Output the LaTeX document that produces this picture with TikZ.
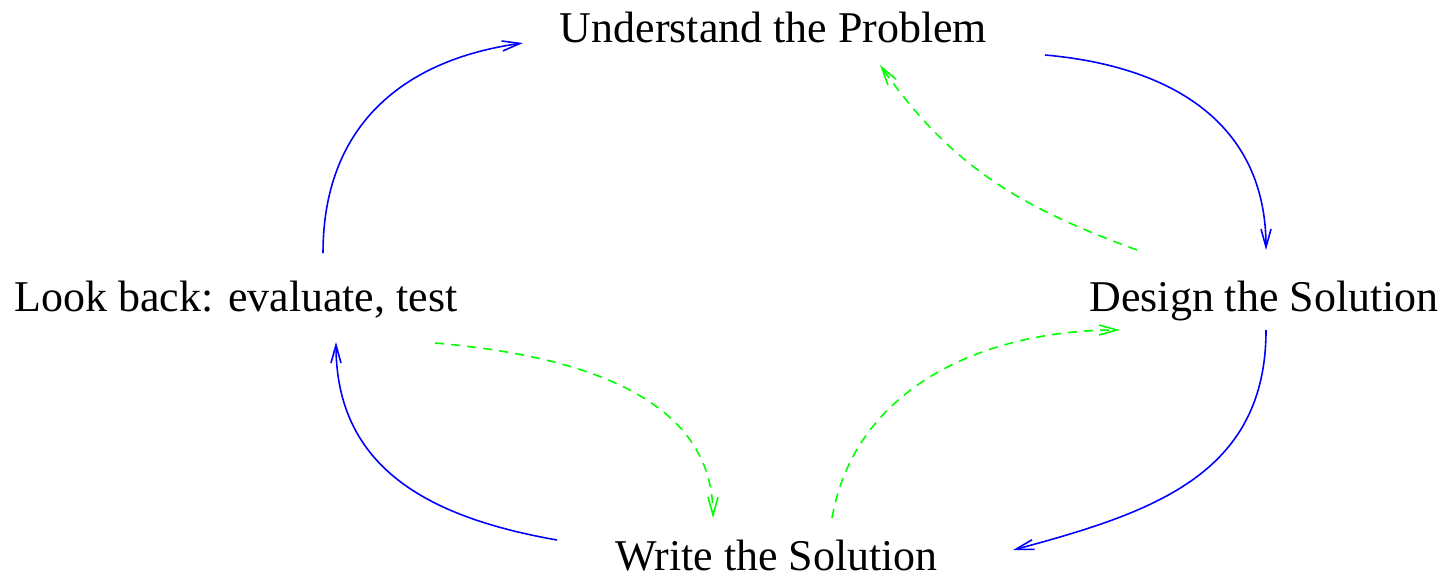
\documentclass[tikz,border=0pt]{standalone}
\usepackage{fontspec}
\setmainfont{Liberation Serif}
\usetikzlibrary{arrows.meta}
\begin{document}
\begin{tikzpicture}[every node/.style={anchor=base, inner sep=0pt, font=\fontsize{12.5}{15}\selectfont},
    fwd/.style={draw=blue, line width=0.45pt, looseness=1.1, -{Straight Barb[length=1.8mm,width=1.0mm]}},
    back/.style={draw=green, line width=0.45pt, dash pattern=on 2.6pt off 2pt, -{Straight Barb[length=1.8mm,width=1.0mm]}}]

    \useasboundingbox (0,0) rectangle (14.47,5.76);

    % Steps
    \node (und) at (7.735,5.34) {Understand the Problem};
    \node (look) at (2.36,2.65) {Look back: evaluate, test};
    \node (design) at (12.64,2.65) {Design the Solution};
    \node (write) at (7.765,0.06) {Write the Solution};

    % Main cycle
    \draw[fwd] ([xshift=8.7mm,yshift=5.8mm]look.base) to[out=90, in=188] ([xshift=-25.05mm,yshift=-0.1mm]und.base);
    \draw[fwd] ([xshift=27.15mm,yshift=-1.3mm]und.base) to[out=-5, in=90] ([xshift=0.2mm,yshift=6.1mm]design.base);
    \draw[fwd] ([xshift=0.2mm,yshift=-1.9mm]design.base) to[out=-90, in=15] ([xshift=23.65mm,yshift=2.0mm]write.base);
    \draw[fwd] ([xshift=-21.95mm,yshift=3.0mm]write.base) to[out=170, in=-90] ([xshift=10mm,yshift=-3.1mm]look.base);

    % Going back
    \draw[back] ([xshift=-12.7mm,yshift=6.1mm]design.base) to[out=160, in=-55] ([xshift=10.65mm,yshift=-2.3mm]und.base);
    \draw[back] ([xshift=19.9mm,yshift=-3.2mm]look.base) to[out=-5, in=90] ([xshift=-6.35mm,yshift=5.2mm]write.base);
    \draw[back] ([xshift=5.55mm,yshift=5.2mm]write.base) to[out=80, in=180] ([xshift=-14.4mm,yshift=-1.9mm]design.base);

\end{tikzpicture}
\end{document}
